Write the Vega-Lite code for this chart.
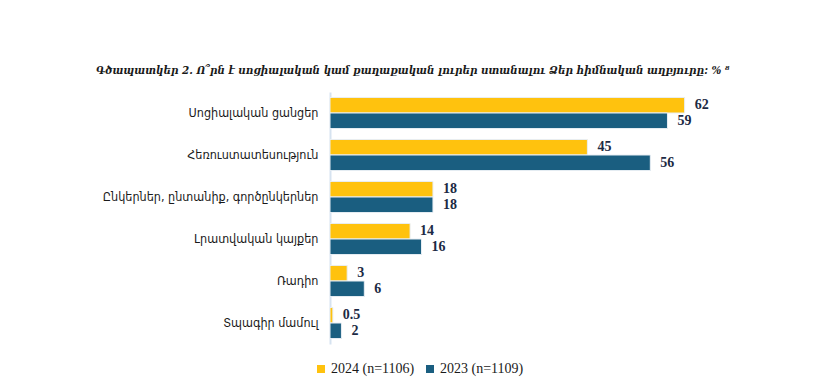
{
  "$schema": "https://vega.github.io/schema/vega-lite/v6.json",
  "autosize": "none",
  "width": 429,
  "height": 252,
  "padding": {"left": 330, "top": 92, "right": 57, "bottom": 34},
  "background": "white",
  "title": {
    "text": ["Գծապատկեր 2. Ո՞րն է սոցիալական կամ քաղաքական լուրեր ստանալու Ձեր հիմնական աղբյուրը: % ⁸"],
    "anchor": "start",
    "frame": "group",
    "dx": -234,
    "offset": 16,
    "font": "DejaVu Serif Condensed",
    "fontSize": 11.5,
    "fontStyle": "italic",
    "fontWeight": "bold",
    "color": "#1a1a1a"
  },
  "data": {
    "values": [
      {"cat": "Սոցիալական ցանցեր", "year": "2024 (n=1106)", "value": 62},
      {"cat": "Սոցիալական ցանցեր", "year": "2023 (n=1109)", "value": 59},
      {"cat": "Հեռուստատեսություն", "year": "2024 (n=1106)", "value": 45},
      {"cat": "Հեռուստատեսություն", "year": "2023 (n=1109)", "value": 56},
      {"cat": "Ընկերներ, ընտանիք, գործընկերներ", "year": "2024 (n=1106)", "value": 18},
      {"cat": "Ընկերներ, ընտանիք, գործընկերներ", "year": "2023 (n=1109)", "value": 18},
      {"cat": "Լրատվական կայքեր", "year": "2024 (n=1106)", "value": 14},
      {"cat": "Լրատվական կայքեր", "year": "2023 (n=1109)", "value": 16},
      {"cat": "Ռադիո", "year": "2024 (n=1106)", "value": 3},
      {"cat": "Ռադիո", "year": "2023 (n=1109)", "value": 6},
      {"cat": "Տպագիր մամուլ", "year": "2024 (n=1106)", "value": 0.5},
      {"cat": "Տպագիր մամուլ", "year": "2023 (n=1109)", "value": 2}
    ]
  },
  "encoding": {
    "y": {
      "field": "cat",
      "type": "nominal",
      "sort": null,
      "title": null,
      "scale": {"paddingInner": 0.26, "paddingOuter": 0.13},
      "axis": {
        "ticks": false,
        "labelPadding": 12,
        "labelFont": "DejaVu Sans Condensed",
        "labelFontSize": 12.5,
        "labelColor": "#1a1a1a",
        "labelLimit": 300,
        "domainColor": "#d6e3f0",
        "domainWidth": 2
      }
    },
    "yOffset": {
      "field": "year",
      "type": "nominal",
      "sort": ["2024 (n=1106)", "2023 (n=1109)"]
    },
    "x": {
      "field": "value",
      "type": "quantitative",
      "scale": {"domain": [0, 75]},
      "axis": null
    }
  },
  "layer": [
    {
      "mark": {"type": "bar", "stroke": "#e8eef4", "strokeWidth": 1},
      "encoding": {
        "color": {
          "field": "year",
          "type": "nominal",
          "scale": {"domain": ["2024 (n=1106)", "2023 (n=1109)"], "range": ["#FFC20E", "#1A5E80"]},
          "legend": {
            "title": null,
            "orient": "none",
            "direction": "horizontal",
            "legendX": -16,
            "legendY": 270,
            "symbolType": "square",
            "symbolSize": 64,
            "symbolStrokeWidth": 0,
            "labelFont": "Liberation Serif",
            "labelFontSize": 14,
            "labelColor": "#1a1a1a",
            "columnPadding": 8,
            "labelOffset": 3
          }
        }
      }
    },
    {
      "mark": {
        "type": "text",
        "align": "left",
        "baseline": "middle",
        "dx": 10,
        "font": "Liberation Serif",
        "fontSize": 14,
        "fontWeight": "bold",
        "color": "#1c2a44"
      },
      "encoding": {
        "text": {"field": "value", "type": "quantitative", "format": ".1~f"}
      }
    }
  ],
  "config": {"view": {"stroke": null}}
}
